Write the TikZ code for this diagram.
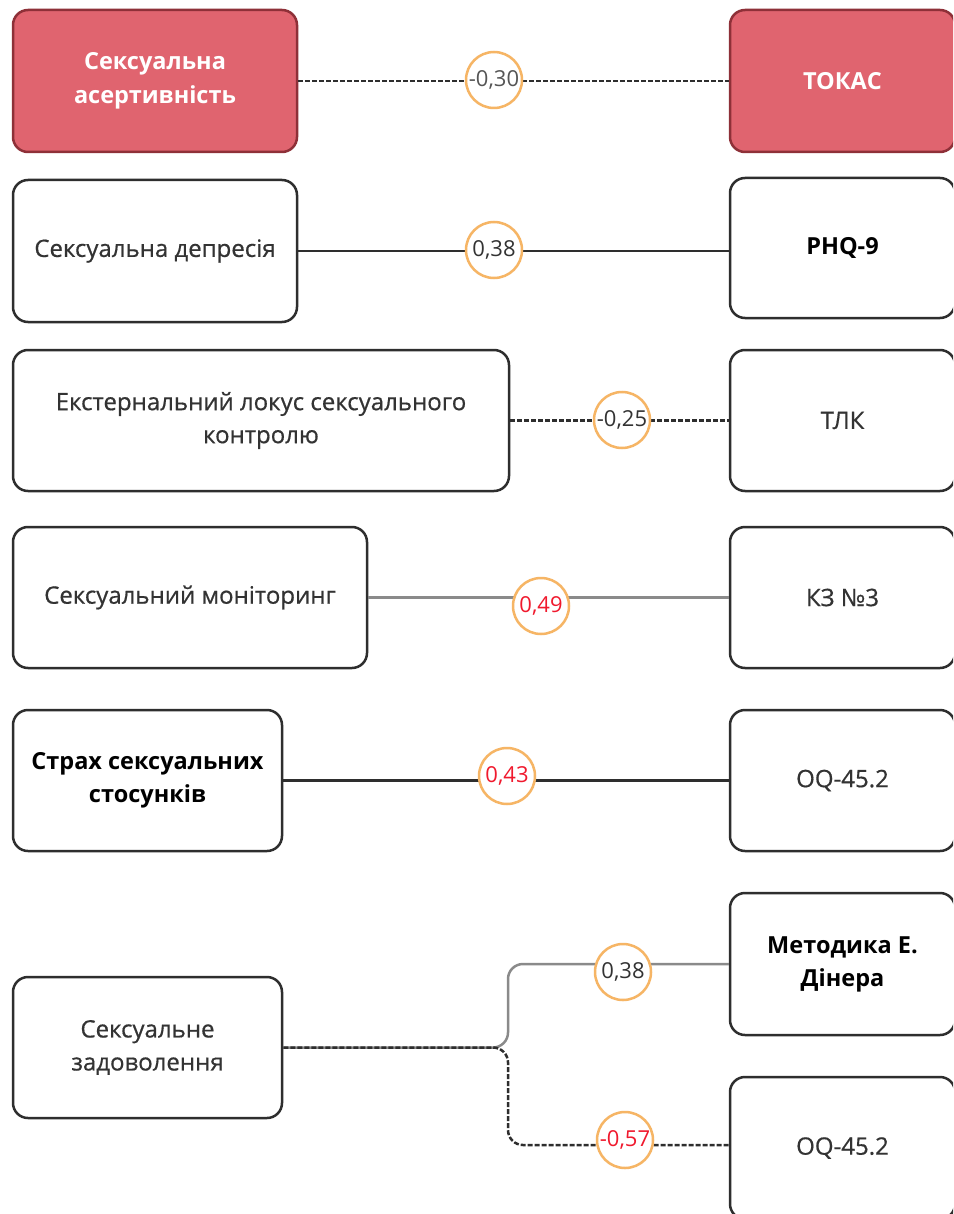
\documentclass[tikz,border=0pt]{standalone}
\usepackage{fontspec}
\setmainfont{Open Sans}
\newfontfamily\medfont{Open Sans}[FakeBold=0.6]
\definecolor{redfill}{HTML}{E0646F}
\definecolor{redborder}{HTML}{8E3038}
\definecolor{boxborder}{HTML}{2E2E2E}
\definecolor{ringorange}{HTML}{F6B565}
\definecolor{linegray}{HTML}{8A8A8A}
\definecolor{valred}{HTML}{F0192D}
\definecolor{valgray}{HTML}{555555}
\definecolor{txt}{HTML}{333333}
\tikzset{
  box/.style={draw=boxborder, line width=2.5pt, rounded corners=15pt, fill=white,
    align=center, text=txt, font=\medfont\fontsize{24}{33}\selectfont, inner sep=4pt},
  redbox/.style={box, draw=redborder, fill=redfill, text=white, font=\fontsize{23.5}{34}\selectfont\bfseries},
  boldbox/.style={box, text=black, font=\fontsize{23.5}{33}\selectfont\bfseries},
  val/.style={circle, draw=ringorange, line width=2.5pt, fill=white, minimum size=56pt,
    inner sep=0pt, text=txt, font=\fontsize{22}{24}\selectfont},
  conn/.style={line width=2.5pt, draw=boxborder},
  dconn/.style={conn, dash pattern=on 5pt off 2pt},
  gconn/.style={conn, draw=linegray},
}
\begin{document}
\begin{tikzpicture}[x=1pt,y=-1pt]
\clip (0,0) rectangle (953,1214);
\fill[white] (0,0) rectangle (953,1214);
% boxes
\node[redbox, minimum width=284pt, minimum height=142pt] (l1) at (155,81) {Сексуальна\\асертивність};
\node[redbox, minimum width=225pt, minimum height=142pt] (r1) at (842.5,81) {ТОКАС};
\node[box, minimum width=284pt, minimum height=142pt] (l2) at (155,251) {Сексуальна депресія};
\node[boldbox, minimum width=225pt, minimum height=140pt] (r2) at (842.5,248) {PHQ-9};
\node[box, minimum width=496pt, minimum height=141pt] (l3) at (261,420.5) {Екстернальний локус сексуального\\контролю};
\node[box, minimum width=225pt, minimum height=141pt] (r3) at (842.5,420.5) {ТЛК};
\node[box, minimum width=354pt, minimum height=141pt] (l4) at (190,597.5) {Сексуальний моніторинг};
\node[box, minimum width=225pt, minimum height=141pt] (r4) at (842.5,597.5) {КЗ №3};
\node[boldbox, minimum width=269pt, minimum height=141pt] (l5) at (147.5,780.5) {Страх сексуальних\\стосунків};
\node[box, minimum width=225pt, minimum height=141pt] (r5) at (842.5,780.5) {OQ-45.2};
\node[box, minimum width=269pt, minimum height=141pt] (l6) at (147.5,1047.5) {Сексуальне\\задоволення};
\node[boldbox, minimum width=225pt, minimum height=142pt] (r6a) at (842.5,964) {Методика Е.\\Дінера};
\node[box, minimum width=225pt, minimum height=142pt] (r6b) at (842.5,1148) {OQ-45.2};
% connectors
\draw[dconn] (l1) -- (r1);
\draw[conn] (l2.east) -- (r2.west |- l2.east);
\draw[dconn] (l3) -- (r3);
\draw[gconn] (l4) -- (r4);
\draw[conn] (l5) -- (r5);
\coordinate (j) at (508,1047.5);
\draw[gconn, rounded corners=15pt] (l6.east) -- (j) -- (j |- r6a.west) -- (r6a.west);
\draw[dconn, rounded corners=15pt] (l6.east) -- (j) -- (508,1145) -- (r6b.west |- 0,1145);
% values
\node[val, text=valgray] (v1) at (494,80) {-0,30};
\node[val] (v2) at (494,250) {0,38};
\node[val] (v3) at (622,420) {-0,25};
\node[val, text=valred] (v4) at (541,606) {0,49};
\node[val, text=valred] (v5) at (507,776) {0,43};
\node[val] (v6) at (623,972) {0,38};
\node[val, text=valred] (v7) at (625,1140) {-0,57};
\end{tikzpicture}
\end{document}
